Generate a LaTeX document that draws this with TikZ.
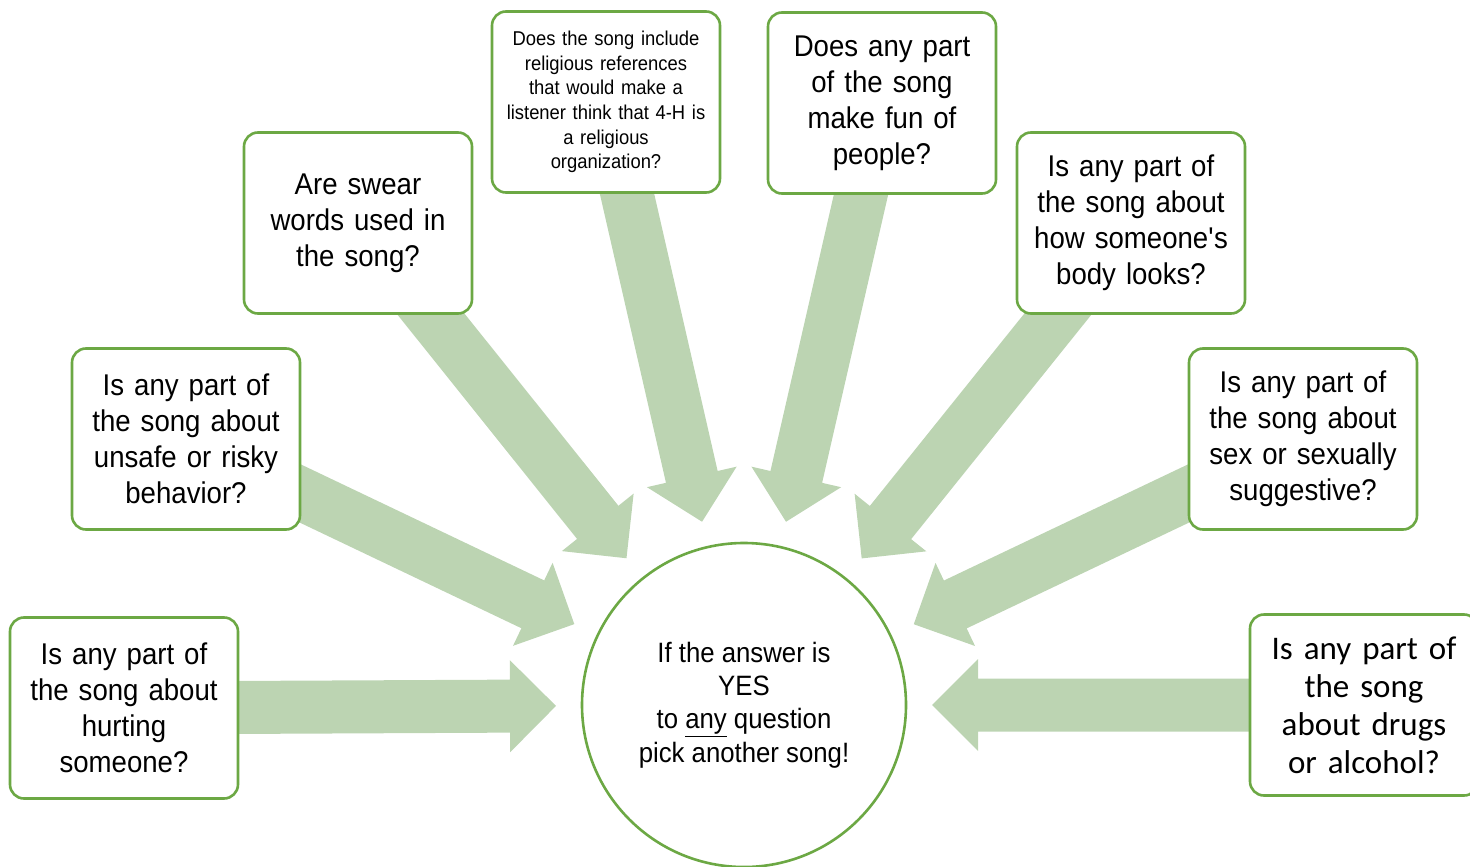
\documentclass[tikz,border=0pt]{standalone}
\usepackage{fontspec}
\setmainfont[FakeStretch=0.92]{Liberation Sans}
\newfontfamily\calib{Carlito}
\usetikzlibrary{calc,backgrounds}
\definecolor{boxgreen}{RGB}{108,168,68}
\definecolor{arrowgreen}{RGB}{188,212,178}
\tikzset{
  qbox/.style={draw=boxgreen, line width=2.6pt, fill=white, rounded corners=14pt,
    minimum width=228pt, minimum height=181pt, text width=218pt, align=center,
    inner sep=0pt, font=\fontsize{30}{36}\selectfont},
  hub/.style={circle, draw=boxgreen, line width=2.6pt, fill=white, minimum size=324pt,
    align=center, inner sep=0pt, font=\fontsize{28}{33.3}\selectfont},
  arrowfill/.style={fill=arrowgreen, draw=none}
}
\newcommand\blockarrow[2]{%
  \coordinate (T) at ($(#2.center)!188pt!(#1.center)$);
  \coordinate (H) at ($(T)!46pt!(#1.center)$);
  \path[arrowfill] ($(#1.center)!26.5pt!90:(T)$) -- ($(H)!26.5pt!90:(T)$)
    -- ($(H)!46pt!90:(T)$) -- (T) -- ($(H)!46pt!-90:(T)$)
    -- ($(H)!26.5pt!-90:(T)$) -- ($(#1.center)!26.5pt!-90:(T)$) -- cycle;
}
\begin{document}
\begin{tikzpicture}[x=1pt,y=-1pt]
\path[use as bounding box] (0,0) rectangle (1470,867);
\clip (0,0) rectangle (1470,867);
\node[hub] (hub) at (744,705) {If the answer is\\YES\\to \underline{any} question\\pick another song!};
\node[qbox] (q1) at (124,708) {Is any part of\\the song about\\hurting\\someone?};
\node[qbox] (q2) at (186,439) {Is any part of\\the song about\\unsafe or risky\\behavior?};
\node[qbox] (q3) at (358,223) {Are swear\\words used in\\the song?};
\node[qbox, font=\fontsize{20}{24.6}\selectfont] (q4) at (606,102) {Does the song include\\religious references\\that would make a\\listener think that 4-H is\\a religious\\organization?};
\node[qbox] (q5) at (882,103) {Does any part\\of the song\\make fun of\\people?};
\node[qbox] (q6) at (1131,223) {Is any part of\\the song about\\how someone\textquotesingle s\\body looks?};
\node[qbox] (q7) at (1303,439) {Is any part of\\the song about\\sex or sexually\\suggestive?};
\node[qbox, font=\calib\fontsize{33}{38}\selectfont] (q8) at (1364,705) {Is any part of\\the song\\about drugs\\or alcohol?};
\begin{scope}[on background layer]
\blockarrow{q1}{hub}
\blockarrow{q2}{hub}
\blockarrow{q3}{hub}
\blockarrow{q4}{hub}
\blockarrow{q5}{hub}
\blockarrow{q6}{hub}
\blockarrow{q7}{hub}
\blockarrow{q8}{hub}
\end{scope}
\end{tikzpicture}
\end{document}
